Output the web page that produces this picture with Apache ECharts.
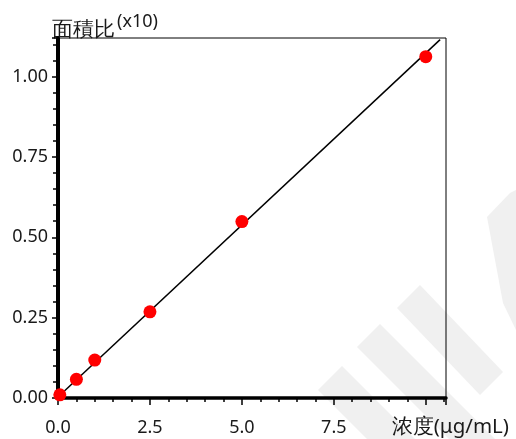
<!DOCTYPE html>
<html>
<head>
<meta charset="utf-8">
<script src="https://cdn.jsdelivr.net/npm/echarts@6/dist/echarts.min.js"></script>
<style>html,body{margin:0;padding:0;background:#fff}#c{width:516px;height:439px}</style>
</head>
<body>
<div id="c"></div>
<script>
// Data
var concentration = [0.05, 0.5, 1.0, 2.5, 5.0, 10.0];
var areaRatio = [0.010, 0.058, 0.118, 0.268, 0.549, 1.062];
var fitX = [0.0, 10.39];
var fitY = [0.003, 1.115];
var xTicksMajor = [0.0, 2.5, 5.0, 7.5];
var yTicksMajor = [0.00, 0.25, 0.50, 0.75, 1.00];
var xName = '浓度(μg/mL)';
var yName = '面積比';
var yUnit = '(x10)';

var FONT = '"Noto Sans", sans-serif';
function isIn(list, v) {
  for (var i = 0; i < list.length; i++) if (Math.abs(list[i] - v) < 1e-6) return true;
  return false;
}
var xMin = 0, xMax = 10.55, yMin = 0, yMax = 1.12;

var chart = echarts.init(document.getElementById('c'), null, {renderer: 'canvas'});
var wm = '#f0f0f0';
chart.setOption({
  animation: false,
  backgroundColor: '#fff',
  graphic: [
    {type: 'polygon', z: -10, shape: {points: [[318,390],[342,366],[415,439],[367,439]]}, style: {fill: wm}},
    {type: 'polygon', z: -10, shape: {points: [[357,347],[380,324],[495,439],[449,439]]}, style: {fill: wm}},
    {type: 'polygon', z: -10, shape: {points: [[397,308],[420,285],[503,372],[480,395]]}, style: {fill: wm}},
    {type: 'polygon', z: -10, shape: {points: [[487,217],[510,193],[516,190],[516,330],[503,303]]}, style: {fill: wm}},
    {type: 'text', left: 117, top: 13, z: 10, style: {text: yUnit, font: '18px ' + FONT, fill: '#1a1a1a'}}
  ],
  grid: {left: 58, top: 38, right: 70, bottom: 41, show: true, borderColor: '#000', borderWidth: 1, backgroundColor: 'transparent'},
  xAxis: [
    {
      type: 'value', min: xMin, max: xMax, interval: 0.5,
      axisLine: {lineStyle: {color: '#000', width: 3.5}},
      axisTick: {show: true, length: 4, lineStyle: {color: '#000', width: 1.5}},
      axisLabel: {show: false},
      splitLine: {show: false},
      name: xName, nameLocation: 'end', nameGap: 63,
      nameTextStyle: {fontFamily: FONT, fontSize: 20.5, color: '#1a1a1a', align: 'right', verticalAlign: 'top', padding: [19, 0, 0, 0]}
    },
    {
      type: 'value', min: xMin, max: xMax, interval: 2.5, position: 'bottom',
      axisLine: {show: false},
      axisTick: {show: true, length: 7, lineStyle: {color: '#000', width: 1.5}},
      axisLabel: {margin: 21, fontFamily: FONT, fontSize: 18, color: '#1a1a1a',
        formatter: function (v) { return isIn(xTicksMajor, v) ? v.toFixed(1) : ''; }},
      splitLine: {show: false}
    }
  ],
  yAxis: [
    {
      type: 'value', min: yMin, max: yMax, interval: 0.05,
      axisLine: {lineStyle: {color: '#000', width: 4}},
      axisTick: {show: true, length: 5, lineStyle: {color: '#000', width: 1.5}},
      axisLabel: {show: false},
      splitLine: {show: false},
      name: yName, nameLocation: 'end', nameGap: 0,
      nameTextStyle: {fontFamily: FONT, fontSize: 20.5, color: '#1a1a1a', align: 'left', verticalAlign: 'bottom', padding: [0, 0, -3, -6]}
    },
    {
      type: 'value', min: yMin, max: yMax, interval: 0.25, position: 'left',
      axisLine: {show: false},
      axisTick: {show: true, length: 6, lineStyle: {color: '#000', width: 1.5}},
      axisLabel: {margin: 10, fontFamily: FONT, fontSize: 18, color: '#1a1a1a',
        formatter: function (v) { return isIn(yTicksMajor, v) ? v.toFixed(2) : ''; }},
      splitLine: {show: false}
    }
  ],
  series: [
    {
      type: 'line', xAxisIndex: 0, yAxisIndex: 0, symbol: 'none',
      data: fitX.map(function (x, i) { return [x, fitY[i]]; }),
      lineStyle: {color: '#000', width: 1.5}, z: 2
    },
    {
      type: 'scatter', xAxisIndex: 0, yAxisIndex: 0, symbolSize: 13,
      data: concentration.map(function (x, i) { return [x, areaRatio[i]]; }),
      itemStyle: {color: '#ff0000', opacity: 1}, z: 3
    }
  ]
});
</script>
</body>
</html>
